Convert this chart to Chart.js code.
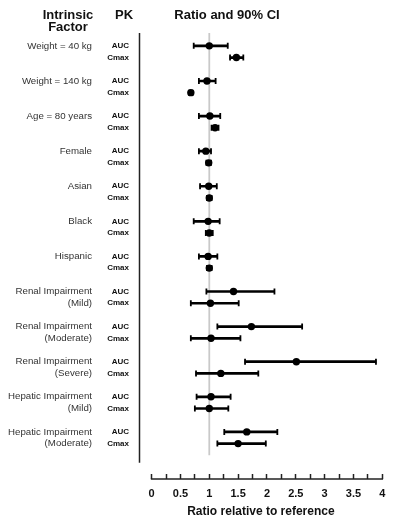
<!DOCTYPE html>
<html>
<head>
<meta charset="utf-8">
<script src="https://cdn.jsdelivr.net/npm/chart.js"></script>
<style>
    body { margin: 0; background: #fff; }
    #wrap { width: 400px; height: 520px; }
</style>
</head>
<body>
<div id="wrap"><canvas id="forestChart" width="400" height="520"></canvas></div>
<script>
// Data
const factors = [
    'Weight = 40 kg',
    'Weight = 140 kg',
    'Age = 80 years',
    'Female',
    'Asian',
    'Black',
    'Hispanic',
    ['Renal Impairment', '(Mild)'],
    ['Renal Impairment', '(Moderate)'],
    ['Renal Impairment', '(Severe)'],
    ['Hepatic Impairment', '(Mild)'],
    ['Hepatic Impairment', '(Moderate)']
];
const pkParams = ['AUC', 'Cmax'];

const aucRatio = [1.00, 0.96, 1.01, 0.94, 0.99, 0.98, 0.98, 1.42, 1.73, 2.51, 1.03, 1.65];
const aucLow   = [0.73, 0.82, 0.82, 0.82, 0.84, 0.73, 0.82, 0.95, 1.14, 1.62, 0.78, 1.26];
const aucHigh  = [1.32, 1.11, 1.19, 1.03, 1.13, 1.18, 1.14, 2.13, 2.61, 3.89, 1.37, 2.18];

const cmaxRatio = [1.47, 0.68, 1.10, 0.99, 1.00, 1.00, 1.00, 1.02, 1.03, 1.20, 1.00, 1.50];
const cmaxLow   = [1.36, 0.65, 1.04, 0.95, 0.96, 0.94, 0.96, 0.68, 0.68, 0.77, 0.75, 1.14];
const cmaxHigh  = [1.59, 0.71, 1.16, 1.03, 1.04, 1.06, 1.04, 1.51, 1.54, 1.85, 1.33, 1.98];

const xTicks = [0, 0.25, 0.5, 0.75, 1, 1.25, 1.5, 1.75, 2, 2.25, 2.5, 2.75, 3, 3.25, 3.5, 3.75, 4];
const refValue = 1;

const FONT = "'Liberation Sans', Arial, Helvetica, sans-serif";

// each factor takes 3 slots on the y scale: AUC, Cmax, gap
const rowPos = (i, k) => i * 3 + k;
const yMin = -1.1, yMax = 36.6, yAxisEnd = 35.64, refEnd = 35;

const yTickValues = [];
factors.forEach((f, i) => pkParams.forEach((p, k) => yTickValues.push(rowPos(i, k))));

function labelAt(v, kind) {
    const i = Math.floor(v / 3), k = v - i * 3;
    if (kind === 'pk') return pkParams[k] || '';
    const f = factors[i];
    if (Array.isArray(f)) return f[k] || '';
    return k === 0 ? f : '';
}

const whiskers = [], caps = [], points = [];
factors.forEach((f, i) => {
    [[aucRatio, aucLow, aucHigh], [cmaxRatio, cmaxLow, cmaxHigh]].forEach((s, k) => {
        const y = rowPos(i, k);
        whiskers.push({ x: [s[1][i], s[2][i]], y: y });
        caps.push({ x: s[1][i], y: y }, { x: s[2][i], y: y });
        points.push({ x: s[0][i], y: y });
    });
});

// axis line, baseline under the x ticks, column headers
const decor = {
    id: 'decor',
    afterDraw(chart) {
        const { ctx, chartArea, scales } = chart;
        ctx.save();
        ctx.strokeStyle = '#222';
        ctx.lineWidth = 1.5;
        ctx.beginPath();
        ctx.moveTo(chartArea.left, chartArea.top);
        ctx.lineTo(chartArea.left, scales.y.getPixelForValue(yAxisEnd));
        ctx.stroke();

        const by = chartArea.bottom + 5;
        ctx.beginPath();
        ctx.moveTo(scales.x.getPixelForValue(xTicks[0]) - 0.75, by);
        ctx.lineTo(scales.x.getPixelForValue(xTicks[xTicks.length - 1]) + 0.75, by);
        ctx.stroke();

        ctx.fillStyle = '#111';
        ctx.font = 'bold 13px ' + FONT;
        ctx.textAlign = 'center';
        ctx.textBaseline = 'alphabetic';
        ctx.fillText('Intrinsic', 68, 19.3);
        ctx.fillText('Factor', 68, 30.5);
        ctx.fillText('PK', 124, 19.3);
        ctx.fillText('Ratio and 90% CI', 227, 19.3);
        ctx.restore();
    }
};

new Chart(document.getElementById('forestChart'), {
    type: 'scatter',
    data: {
        datasets: [{
            type: 'line',
            data: [{ x: refValue, y: yMin }, { x: refValue, y: refEnd }],
            borderColor: '#c9c9c9',
            borderWidth: 1.8,
            pointRadius: 0,
            order: 4
        }, {
            type: 'bar',
            indexAxis: 'y',
            data: whiskers,
            backgroundColor: '#000',
            borderWidth: 0,
            barThickness: 2,
            grouped: false,
            order: 3
        }, {
            data: caps,
            pointStyle: 'line',
            rotation: 90,
            pointRadius: 3,
            borderColor: '#000',
            borderWidth: 1.8,
            order: 2
        }, {
            data: points,
            pointStyle: 'circle',
            pointRadius: 3.7,
            backgroundColor: '#000',
            borderWidth: 0,
            order: 1
        }]
    },
    options: {
        responsive: false,
        animation: false,
        events: [],
        layout: { padding: { top: 33, right: 17.7, left: 0, bottom: 0 } },
        plugins: {
            legend: { display: false },
            tooltip: { enabled: false }
        },
        scales: {
            x: {
                type: 'linear',
                min: -0.21,
                max: 4,
                offset: false,
                afterBuildTicks: (scale) => { scale.ticks = xTicks.map(v => ({ value: v })); },
                afterFit: (scale) => { scale.height = 46; },
                border: { display: false },
                grid: {
                    drawOnChartArea: false,
                    drawTicks: true,
                    tickLength: 5,
                    tickWidth: 1.5,
                    tickColor: '#222'
                },
                ticks: {
                    autoSkip: false,
                    maxRotation: 0,
                    padding: 8,
                    color: '#111',
                    font: { family: FONT, size: 11, weight: 'bold' },
                    callback: (v) => (v * 2 === Math.round(v * 2) ? String(v) : '')
                },
                title: {
                    display: true,
                    text: 'Ratio relative to reference',
                    color: '#111',
                    font: { family: FONT, size: 12, weight: 'bold' },
                    padding: { top: 2, bottom: 1 }
                }
            },
            y: {
                type: 'linear',
                position: 'left',
                reverse: true,
                offset: false,
                min: yMin,
                max: yMax,
                weight: 1,
                afterBuildTicks: (scale) => { scale.ticks = yTickValues.map(v => ({ value: v })); },
                afterFit: (scale) => { scale.width = 40; },
                border: { display: false },
                grid: { display: false, drawTicks: false, offset: false },
                ticks: {
                    autoSkip: false,
                    padding: 10.5,
                    color: '#111',
                    font: { family: FONT, size: 8, weight: 'bold' },
                    callback: (v) => labelAt(v, 'pk')
                }
            },
            yf: {
                type: 'linear',
                position: 'left',
                reverse: true,
                offset: false,
                min: yMin,
                max: yMax,
                weight: 2,
                afterBuildTicks: (scale) => { scale.ticks = yTickValues.map(v => ({ value: v })); },
                afterFit: (scale) => { scale.width = 99.5; },
                border: { display: false },
                grid: { display: false, drawTicks: false },
                ticks: {
                    autoSkip: false,
                    padding: 7.5,
                    color: '#333',
                    font: { family: FONT, size: 9.7 },
                    callback: (v) => labelAt(v, 'factor')
                }
            }
        }
    },
    plugins: [decor]
});
</script>
</body>
</html>
